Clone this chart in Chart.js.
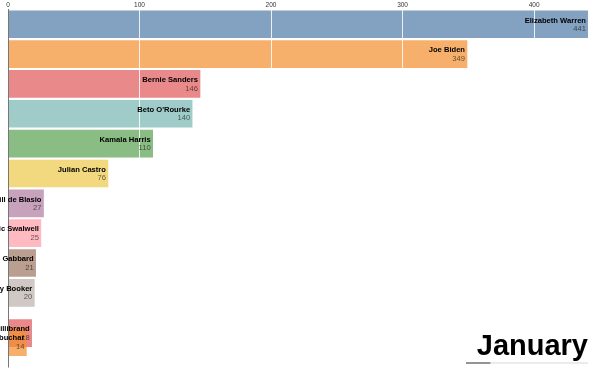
<!DOCTYPE html>
<html>
<head>
<meta charset="utf-8">
<script src="https://cdn.jsdelivr.net/npm/chart.js@4"></script>
<style>
  html, body { margin: 0; padding: 0; background: #fff; }
  #wrap { width: 600px; height: 370px; }
</style>
</head>
<body>
<div id="wrap"><canvas id="raceChart" width="600" height="370"></canvas></div>
<script>
// frame data (January)
const names = ['Elizabeth Warren', 'Joe Biden', 'Bernie Sanders', "Beto O'Rourke", 'Kamala Harris', 'Julian Castro',
               'Bill de Blasio', 'Eric Swalwell', 'Tulsi Gabbard', 'Cory Booker', 'Kirsten Gillibrand', 'Amy Klobuchar'];
const values = [441, 349, 146, 140, 110, 76, 27, 25, 21, 20, 18, 14];
// rank of each bar in this frame (last two are mid-swap)
const ranks = [0, 1, 2, 3, 4, 5, 6, 7, 8, 9, 10.35, 10.65];
const xTicks = [0, 100, 200, 300, 400];
const period = 'January';
const progress = 0.2;

const barColors = ['#4e79a7', '#f28e2c', '#e15759', '#76b7b2', '#59a14f', '#edc949',
                   '#af7aa1', '#ff9da7', '#9c755f', '#bab0ab', '#e15759', '#f28e2c'];

function withAlpha(hex, a) {
    const n = parseInt(hex.slice(1), 16);
    return 'rgba(' + (n >> 16) + ',' + ((n >> 8) & 255) + ',' + (n & 255) + ',' + a + ')';
}

const FONT = "'Liberation Sans', Arial, Helvetica, sans-serif";

// names + values at the end of each bar, then the big month ticker
const labelPlugin = {
    id: 'barLabels',
    afterDraw(chart) {
        const ctx = chart.ctx;
        const meta = chart.getDatasetMeta(0);
        ctx.save();
        ctx.textAlign = 'right';
        ctx.textBaseline = 'alphabetic';
        meta.data.forEach((bar, i) => {
            const x = bar.x - 2;
            ctx.font = 'bold 7.6px ' + FONT;
            ctx.fillStyle = '#000';
            ctx.fillText(names[i], x, bar.y - 1.7);
            ctx.font = '7.6px ' + FONT;
            ctx.fillStyle = 'rgba(0,0,0,0.6)';
            ctx.fillText(values[i], x, bar.y + 6.6);
        });

        const right = chart.chartArea.right;
        ctx.font = 'bold 29px ' + FONT;
        ctx.fillStyle = '#000';
        ctx.fillText(period, right, 355);

        // progress line under the ticker
        const x0 = 466;
        ctx.lineWidth = 1.5;
        ctx.strokeStyle = '#e4e4e4';
        ctx.beginPath(); ctx.moveTo(x0, 363); ctx.lineTo(right, 363); ctx.stroke();
        ctx.strokeStyle = '#777';
        ctx.beginPath(); ctx.moveTo(x0, 363); ctx.lineTo(x0 + (right - x0) * progress, 363); ctx.stroke();
        ctx.restore();
    }
};

const ctx = document.getElementById('raceChart').getContext('2d');
const raceChart = new Chart(ctx, {
    type: 'bar',
    data: {
        datasets: [{
            data: values.map((v, i) => ({ x: v, y: ranks[i] })),
            backgroundColor: barColors.map(c => withAlpha(c, 0.7)),
            borderWidth: 0,
            barThickness: 27
        }]
    },
    options: {
        indexAxis: 'y',
        responsive: false,
        animation: false,
        devicePixelRatio: 1,
        layout: { padding: { left: 8, right: 12, top: 0, bottom: 2.5 } },
        plugins: {
            legend: { display: false },
            tooltip: { enabled: false }
        },
        scales: {
            x: {
                type: 'linear',
                position: 'top',
                min: 0,
                max: Math.max(...values),
                afterFit: (scale) => { scale.height = 9.3; },
                afterBuildTicks: (scale) => { scale.ticks = xTicks.map(v => ({ value: v })); },
                ticks: {
                    font: { size: 6.5, family: FONT },
                    color: '#333',
                    padding: 0.5,
                    maxRotation: 0
                },
                grid: {
                    z: 1,
                    drawTicks: false,
                    color: (c) => (c.tick && c.tick.value === 0) ? '#777' : 'rgba(255,255,255,0.85)',
                    lineWidth: 1
                },
                border: { display: false }
            },
            y: {
                type: 'linear',
                reverse: true,
                offset: false,
                min: -0.5,
                max: 11.5,
                display: false
            }
        }
    },
    plugins: [labelPlugin]
});
</script>
</body>
</html>
